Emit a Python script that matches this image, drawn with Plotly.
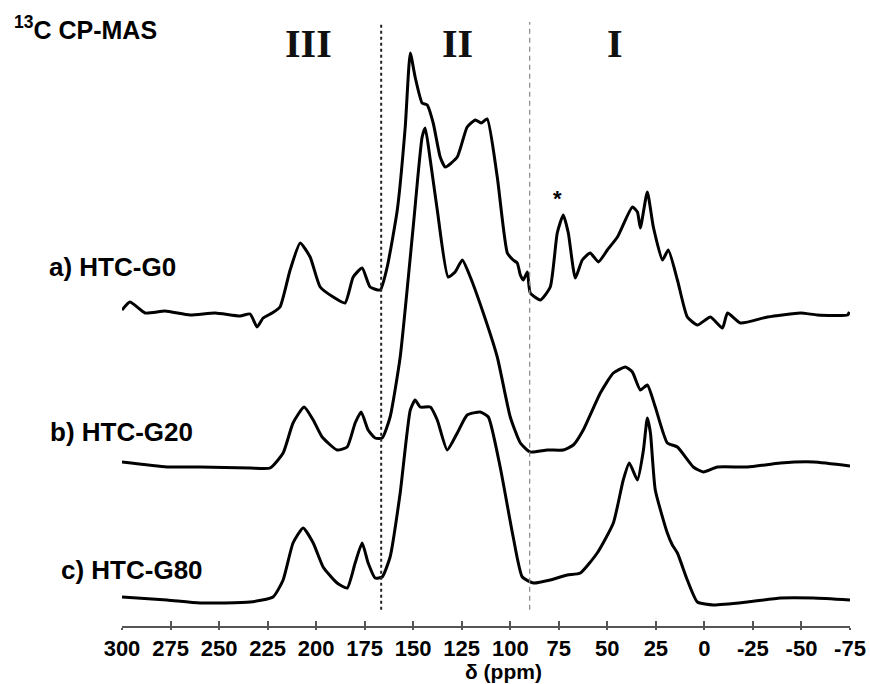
import plotly.graph_objects as go

# ---------------- data (chemical shift in ppm, intensity in a.u. above each baseline) ----------------
g0_ppm = [300.0, 295.9, 288.1, 277.8, 265.0, 252.1, 239.2, 234.0, 230.4, 227.3, 222.7, 218.6, 213.4,
          208.2, 203.1, 197.9, 191.2, 185.1, 180.9, 176.3, 172.2, 167.0, 163.4, 158.2, 154.1, 151.5,
          149.0, 145.4, 142.8, 139.7, 136.1, 133.5, 127.3, 122.2, 118.0, 115.0, 111.9, 106.7, 101.5,
          98.5, 96.4, 94.8, 93.3, 91.2, 89.7, 84.5, 79.4, 75.8, 72.7, 70.1, 66.5, 62.9, 58.8, 54.6,
          50.0, 44.8, 37.1, 34.5, 33.0, 29.4, 26.3, 21.6, 18.6, 13.9, 8.8, 3.6, -3.1, -9.3, -11.9,
          -18.6, -32.5, -49.5, -58.2, -73.7, -74.7]
g0_int = [2, 10, -1, 1, -3, -1, -4, -2, -15, -6, -1, 5, 42,
          69, 55, 25, 15, 9, 35, 44, 25, 22, 45, 102, 185, 259,
          235, 209, 207, 189, 155, 145, 155, 185, 192, 189, 193, 135, 59,
          52, 49, 37, 32, 40, 19, 12, 25, 79, 97, 79, 34, 52, 59, 50,
          62, 75, 105, 100, 84, 120, 85, 52, 62, 32, -5, -13, -5, -16, -1,
          -11, -5, -1, -3, -3, 0]

g20_ppm = [300.0, 276.8, 259.8, 234.0, 223.7, 217.0, 211.9, 206.2, 201.5, 196.9, 189.2, 184.0, 179.9,
           176.8, 173.2, 169.6, 166.0, 161.9, 156.7, 150.0, 145.4, 143.8, 141.2, 137.6, 132.0, 128.4,
           124.7, 120.6, 113.9, 106.7, 100.0, 94.8, 89.7, 80.9, 72.7, 67.5, 62.4, 53.6, 46.9, 40.7,
           37.1, 33.0, 29.4, 25.3, 19.1, 13.9, 5.7, 0.5, -6.7, -22.2, -39.2, -56.2, -75.0]
g20_int = [1, -4, -4, -5, -5, 10, 40, 56, 43, 26, 13, 16, 40,
           51, 33, 25, 25, 46, 106, 236, 326, 335, 303, 253, 186, 191,
           203, 186, 150, 106, 46, 20, 11, 13, 13, 18, 33, 70, 90, 96,
           91, 73, 78, 56, 20, 16, -4, -9, -4, -4, 0, 1, -3]

g80_ppm = [300.0, 276.8, 259.8, 234.0, 222.2, 217.0, 211.9, 206.7, 201.5, 196.4, 189.2, 184.0, 179.9,
           176.3, 173.2, 169.6, 166.0, 161.9, 156.7, 151.5, 149.0, 146.4, 141.2, 137.6, 132.5, 127.3,
           122.2, 115.5, 111.3, 105.2, 98.5, 93.8, 88.1, 79.4, 70.6, 63.9, 55.2, 46.9, 41.8, 38.7,
           34.5, 31.4, 29.4, 27.8, 25.3, 19.1, 16.5, 13.9, 8.8, 3.6, -4.6, -22.2, -39.2, -56.2, -75.0]
g80_int = [3, 0, -3, -2, 3, 20, 57, 72, 57, 33, 17, 12, 37,
           57, 37, 22, 23, 43, 107, 190, 200, 193, 193, 180, 150, 167,
           185, 188, 183, 133, 63, 23, 17, 20, 25, 27, 47, 77, 120, 137,
           120, 150, 182, 167, 110, 67, 55, 47, 20, -2, -5, -2, 2, 2, 0]

sample_labels = ["a) HTC-G0", "b) HTC-G20", "c) HTC-G80"]
baselines = [314, 163, 26]          # vertical stacking offsets (a.u.)

region_labels = ["III", "II", "I"]
region_label_ppm = [204, 127, 46]
region_bounds = [166.5, 90]         # dashed separators (ppm)

star_ppm = 75.8
star_int = 114

tick_vals = [300, 275, 250, 225, 200, 175, 150, 125, 100, 75, 50, 25, 0, -25, -50, -75]
tick_text = ["300", "275", "250", "225", "200", "175", "150", "125", "100", "75", "50", "25",
             "0", "-25", "-50", "-75"]

# ---------------- figure ----------------
fig = go.Figure()
spectra = [(g0_ppm, g0_int), (g20_ppm, g20_int), (g80_ppm, g80_int)]
for (xs, ys), off, name in zip(spectra, baselines, sample_labels):
    fig.add_trace(go.Scatter(x=xs, y=[v + off for v in ys], mode="lines", name=name,
                             line=dict(color="black", width=3, shape="spline", smoothing=0.5),
                             showlegend=False, hoverinfo="skip"))

# invisible trace to activate the overlay axis (crossing tick marks)
fig.add_trace(go.Scatter(x=[tick_vals[0]], y=[0], xaxis="x2", mode="markers",
                         marker=dict(opacity=0), showlegend=False, hoverinfo="skip"))

# region separators
fig.add_shape(type="line", xref="x", yref="paper", x0=region_bounds[0], x1=region_bounds[0],
              y0=0.026, y1=0.965, line=dict(color="#222222", width=2, dash="3px,3px"))
fig.add_shape(type="line", xref="x", yref="paper", x0=region_bounds[1], x1=region_bounds[1],
              y0=0.026, y1=0.965, line=dict(color="#888888", width=1.2, dash="5px,4px"))

sans = "Liberation Sans, Arial, sans-serif"
serif = "Liberation Serif, Times New Roman, serif"

# title
fig.add_annotation(text="<b><sup>13</sup>C CP-MAS</b>", xref="paper", yref="paper",
                   x=-0.151, y=0.955, xanchor="left", yanchor="middle", showarrow=False,
                   font=dict(family=sans, size=25, color="black"))

# region labels
for lab, px in zip(region_labels, region_label_ppm):
    fig.add_annotation(text="<b>%s</b>" % lab, xref="x", yref="paper", x=px, y=0.931,
                       xanchor="center", yanchor="middle", showarrow=False,
                       font=dict(family=serif, size=40, color="#111111"))

# sample labels
label_x = [-0.1031, -0.1017, -0.0866]
label_y = [0.5735, 0.3099, 0.0895]
for lab, lx, ly in zip(sample_labels, label_x, label_y):
    fig.add_annotation(text="<b>%s</b>" % lab, xref="paper", yref="paper", x=lx, y=ly,
                       xanchor="left", yanchor="middle", showarrow=False,
                       font=dict(family=sans, size=26, color="black"))

# star marker on G0
fig.add_annotation(text="<b>*</b>", xref="x", yref="y", x=star_ppm, y=baselines[0] + star_int,
                   xanchor="center", yanchor="middle", showarrow=False,
                   font=dict(family=sans, size=22, color="black"))

# axis title
fig.add_annotation(text="<b>δ (ppm)</b>", xref="paper", yref="paper", x=0.524, y=-0.0925,
                   xanchor="center", yanchor="bottom", showarrow=False, borderpad=0,
                   font=dict(family=sans, size=21, color="black"))

fig.update_layout(
    width=870, height=684,
    margin=dict(l=122, r=20, t=0, b=58),
    paper_bgcolor="white", plot_bgcolor="white",
    xaxis=dict(range=[300, -75], tickmode="array", tickvals=tick_vals, ticktext=tick_text,
               showline=True, linecolor="#555555", linewidth=2, ticks="outside", ticklen=2,
               tickwidth=2, tickcolor="#555555", showgrid=False, zeroline=False,
               tickfont=dict(family=sans, size=22, color="black", weight="bold")),
    xaxis2=dict(range=[300, -75], overlaying="x", anchor="y", side="bottom", tickmode="array",
                tickvals=tick_vals, ticks="inside", ticklen=5, tickwidth=2, tickcolor="#555555",
                showticklabels=False, showgrid=False, zeroline=False, showline=False),
    yaxis=dict(range=[0, 626], visible=False, showgrid=False, zeroline=False),
)

fig.write_html("out.html")
